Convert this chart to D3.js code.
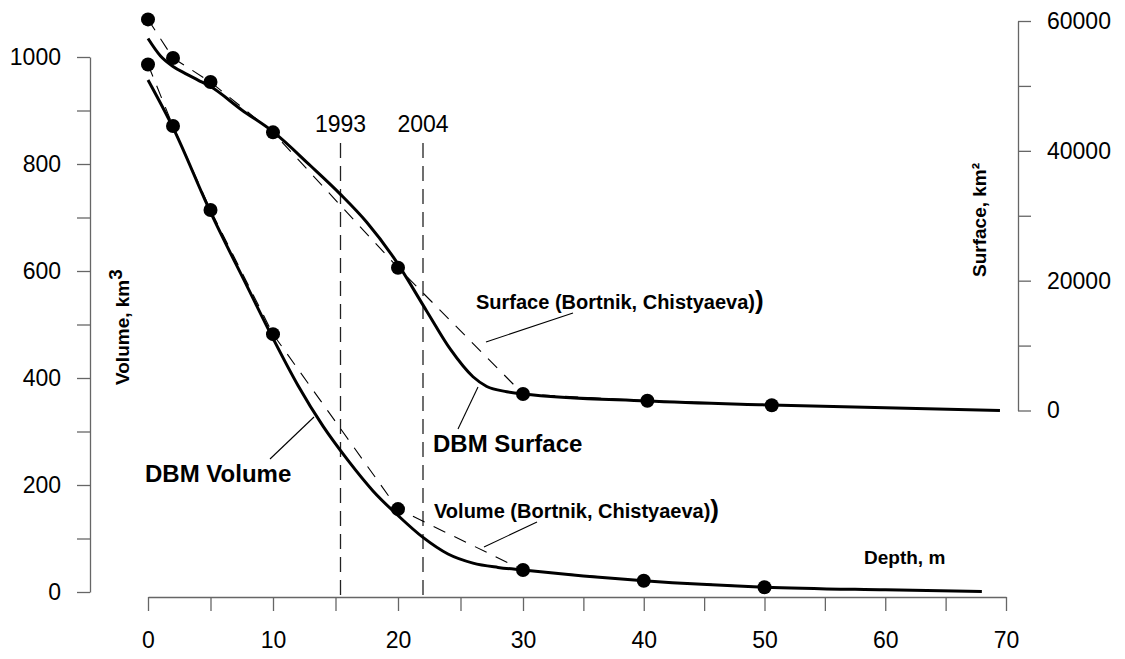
<!DOCTYPE html>
<html>
<head>
<meta charset="utf-8">
<script src="https://cdn.jsdelivr.net/npm/d3@7"></script>
<style>
body { margin: 0; background: #fff; }
text { font-family: "Liberation Sans", Arial, sans-serif; }
</style>
</head>
<body>
<script>
// reference points (Bortnik, Chistyaeva)
var volDepth = [0, 2, 5, 10, 20, 30, 40, 50];
var volValue = [986, 871, 714, 482, 155, 41, 21, 9];
var surfDepth = [0, 2, 5, 10, 20, 30, 40.3, 50.6];
var surfValue = [60250, 54300, 50600, 42850, 22000, 2540, 1500, 820];

// DBM model curves
var dbmVolDepth = [0, 2, 5, 8, 10, 12, 14, 16, 18, 20, 22, 24, 26, 28, 30, 35, 40, 50, 60, 68];
var dbmVolValue = [957, 868, 710, 568, 474, 386, 310, 246, 189, 143, 102, 71, 54, 46, 41, 30, 21, 9, 4, 1];
var dbmSurfDepth = [0, 1, 2, 3, 4, 5, 7.5, 10, 13, 15.4, 17.5, 19.6, 22.3, 24.2, 26, 27.1, 28.7, 30, 40.2, 50.5, 69.5];
var dbmSurfValue = [57300, 54600, 53000, 51900, 50900, 49900, 46300, 42950, 37700, 33300, 29000, 23700, 15300, 9400, 5200, 3700, 2900, 2540, 1460, 850, 0];

// survey years marked as depth lines
var yearLabels = ["1993", "2004"];
var yearDepth = [15.4, 22.0];

var depthTicks = d3.range(0, 71, 5);
var volTicks = d3.range(0, 1001, 100);
var surfTicks = d3.range(0, 60001, 10000);

var w = 1125, h = 659;

var svg = d3.select("body")
    .append("svg")
    .attr("width", w)
    .attr("height", h);

var x = d3.scaleLinear()
    .domain([0, 30, 70])
    .range([148, 523, 1006]);

var yVol = d3.scaleLinear()
    .domain([0, 1000])
    .range([592, 57]);

var ySurf = d3.scaleLinear()
    .domain([0, 60000])
    .range([410.5, 21]);

function styleAxis(g){
    g.selectAll("path, line").attr("stroke", "#666").attr("stroke-width", 1.3);
    g.selectAll("text")
        .attr("fill", "#000")
        .style("font-size", "23px")
        .style("font-family", "'Liberation Sans', Arial, sans-serif");
}

//axes
svg.append("g")
    .attr("transform", "translate(0,597)")
    .call(d3.axisBottom(x).tickValues(depthTicks).tickSize(14).tickSizeOuter(0).tickPadding(21)
        .tickFormat(function(d){ return d % 10 === 0 ? d : ""; }))
    .call(styleAxis);

svg.append("g")
    .attr("transform", "translate(90,0)")
    .call(d3.axisLeft(yVol).tickValues(volTicks).tickSize(13).tickSizeOuter(0).tickPadding(16)
        .tickFormat(function(d){ return d % 200 === 0 ? d : ""; }))
    .call(styleAxis);

svg.append("g")
    .attr("transform", "translate(1018,0)")
    .call(d3.axisRight(ySurf).tickValues(surfTicks).tickSize(13).tickSizeOuter(0).tickPadding(16)
        .tickFormat(function(d){ return d % 20000 === 0 ? d : ""; }))
    .call(styleAxis);

//year lines
yearDepth.forEach(function(d, i){
    svg.append("line")
        .attr("x1", x(d)).attr("x2", x(d))
        .attr("y1", 143).attr("y2", 597)
        .attr("stroke", "#222")
        .attr("stroke-width", 1.3)
        .attr("stroke-dasharray", "15,8");
    svg.append("text")
        .attr("x", x(d)).attr("y", 132)
        .attr("text-anchor", "middle")
        .style("font-size", "23px")
        .text(yearLabels[i]);
});

function zip(a, b){
    return a.map(function(v, i){ return [v, b[i]]; });
}

var lineVol = d3.line()
    .x(function(d){ return x(d[0]); })
    .y(function(d){ return yVol(d[1]); });
var lineSurf = d3.line()
    .x(function(d){ return x(d[0]); })
    .y(function(d){ return ySurf(d[1]); });

//reference dashed lines
svg.append("path")
    .datum(zip(volDepth, volValue))
    .attr("d", lineVol)
    .attr("fill", "none").attr("stroke", "#000").attr("stroke-width", 1.1)
    .attr("stroke-dasharray", "13,10");
svg.append("path")
    .datum(zip(surfDepth, surfValue))
    .attr("d", lineSurf)
    .attr("fill", "none").attr("stroke", "#000").attr("stroke-width", 1.1)
    .attr("stroke-dasharray", "13,10");

//DBM curves
svg.append("path")
    .datum(zip(dbmVolDepth, dbmVolValue))
    .attr("d", lineVol.curve(d3.curveMonotoneX))
    .attr("fill", "none").attr("stroke", "#000").attr("stroke-width", 3);
svg.append("path")
    .datum(zip(dbmSurfDepth, dbmSurfValue))
    .attr("d", lineSurf.curve(d3.curveMonotoneX))
    .attr("fill", "none").attr("stroke", "#000").attr("stroke-width", 3);

//dots
svg.selectAll(".volDot")
    .data(zip(volDepth, volValue))
    .enter().append("circle")
    .attr("class", "volDot")
    .attr("cx", function(d){ return x(d[0]); })
    .attr("cy", function(d){ return yVol(d[1]); })
    .attr("r", 7);
svg.selectAll(".surfDot")
    .data(zip(surfDepth, surfValue))
    .enter().append("circle")
    .attr("class", "surfDot")
    .attr("cx", function(d){ return x(d[0]); })
    .attr("cy", function(d){ return ySurf(d[1]); })
    .attr("r", 7);

//leader lines
var leaders = [[270, 459, 314, 417], [458, 429, 478, 387], [573, 313, 486, 342], [537, 522, 484, 547]];
leaders.forEach(function(l){
    svg.append("line")
        .attr("x1", l[0]).attr("y1", l[1]).attr("x2", l[2]).attr("y2", l[3])
        .attr("stroke", "#000").attr("stroke-width", 1.1);
});

//labels
function boldLabel(tx, ty, size, str, paren){
    var t = svg.append("text")
        .attr("x", tx).attr("y", ty)
        .style("font-size", size + "px")
        .style("font-weight", "bold")
        .text(str);
    if (paren) t.append("tspan").style("font-size", "26px").text(")");
}
boldLabel(145, 482, 24, "DBM Volume");
boldLabel(433, 452, 24, "DBM Surface");
boldLabel(476, 309, 20, "Surface (Bortnik, Chistyaeva)", true);
boldLabel(434, 518, 20, "Volume (Bortnik, Chistyaeva)", true);
boldLabel(864, 564, 19, "Depth, m");

var vt = svg.append("text")
    .attr("transform", "translate(129,385) rotate(-90)")
    .style("font-size", "19px")
    .style("font-weight", "bold")
    .text("Volume, km");
vt.append("tspan").attr("dy", -7).text("3");

svg.append("text")
    .attr("transform", "translate(986,277) rotate(-90)")
    .style("font-size", "19px")
    .style("font-weight", "bold")
    .text("Surface, km²");
</script>
</body>
</html>
